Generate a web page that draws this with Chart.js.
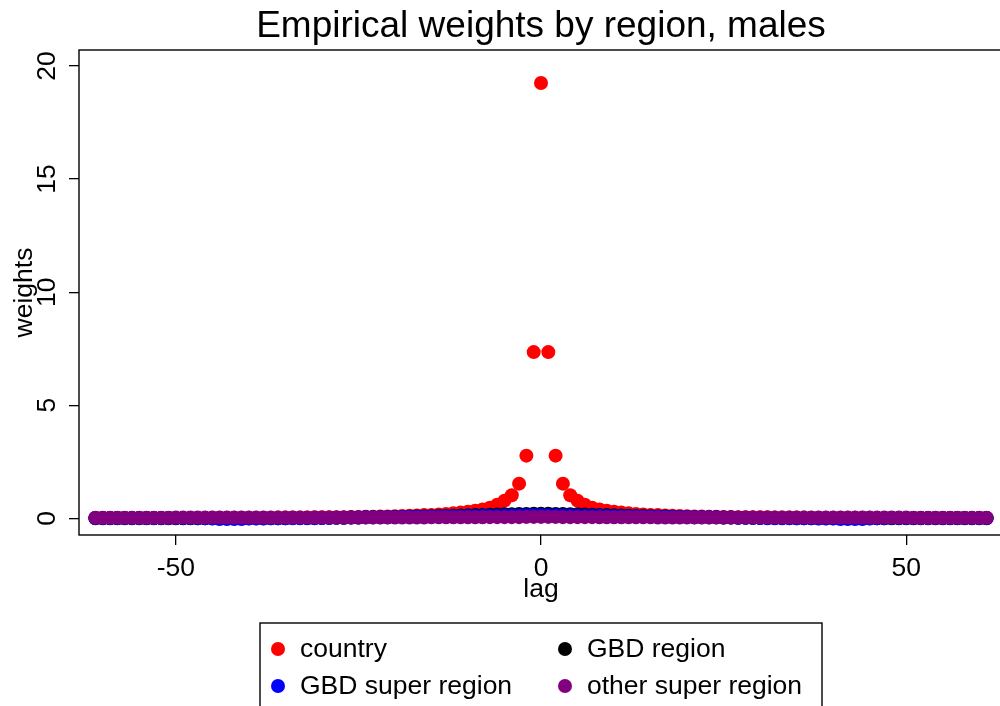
<!DOCTYPE html>
<html>
<head>
<meta charset="utf-8">
<script src="https://cdn.jsdelivr.net/npm/chart.js@4.4.1/dist/chart.umd.min.js"></script>
<style>
  html, body { margin: 0; padding: 0; background: #fff; overflow: hidden; }
  #wrap { width: 1010px; height: 706px; position: relative; }
</style>
</head>
<body>
<div id="wrap"><canvas id="weightsChart"></canvas></div>
<script>
// lag -61 .. 61
const lags = [
  -61, -60, -59, -58, -57, -56, -55, -54, -53, -52, -51,
  -50, -49, -48, -47, -46, -45, -44, -43, -42, -41,
  -40, -39, -38, -37, -36, -35, -34, -33, -32, -31,
  -30, -29, -28, -27, -26, -25, -24, -23, -22, -21,
  -20, -19, -18, -17, -16, -15, -14, -13, -12, -11,
  -10, -9, -8, -7, -6, -5, -4, -3, -2, -1,
  0,
  1, 2, 3, 4, 5, 6, 7, 8, 9, 10,
  11, 12, 13, 14, 15, 16, 17, 18, 19, 20,
  21, 22, 23, 24, 25, 26, 27, 28, 29, 30,
  31, 32, 33, 34, 35, 36, 37, 38, 39, 40,
  41, 42, 43, 44, 45, 46, 47, 48, 49, 50,
  51, 52, 53, 54, 55, 56, 57, 58, 59, 60, 61
];

const countryW = [
  0.01, 0.01, 0.01, 0.01, 0.01, 0.01, 0.01, 0.01, 0.01, 0.01, 0.01,
  0.01, 0.01, 0.01, 0.01, 0.01, 0.02, 0.02, 0.02, 0.02, 0.02,
  0.02, 0.02, 0.02, 0.02, 0.03, 0.03, 0.03, 0.03, 0.03, 0.04,
  0.04, 0.04, 0.05, 0.05, 0.06, 0.06, 0.07, 0.07, 0.08, 0.08,
  0.09, 0.10, 0.11, 0.12, 0.14, 0.15, 0.17, 0.19, 0.22, 0.25,
  0.29, 0.33, 0.39, 0.47, 0.60, 0.78, 1.02, 1.53, 2.77, 7.35,
  19.25,
  7.35, 2.77, 1.53, 1.02, 0.78, 0.60, 0.47, 0.39, 0.33, 0.29,
  0.25, 0.22, 0.19, 0.17, 0.15, 0.14, 0.12, 0.11, 0.10, 0.09,
  0.08, 0.08, 0.07, 0.07, 0.06, 0.06, 0.05, 0.05, 0.04, 0.04,
  0.04, 0.03, 0.03, 0.03, 0.03, 0.03, 0.02, 0.02, 0.02, 0.02,
  0.02, 0.02, 0.02, 0.02, 0.02, 0.01, 0.01, 0.01, 0.01, 0.01,
  0.01, 0.01, 0.01, 0.01, 0.01, 0.01, 0.01, 0.01, 0.01, 0.01, 0.01
];

const regionW = [
  0, 0, 0, 0, 0, 0, 0, 0, 0, 0, 0,
  0, 0, 0, 0, 0, 0, 0, 0, 0, 0,
  0, 0, 0, 0, 0, 0, 0.01, 0.01, 0.01, 0.01,
  0.01, 0.02, 0.02, 0.02, 0.03, 0.03, 0.04, 0.04, 0.05, 0.05,
  0.06, 0.06, 0.07, 0.08, 0.08, 0.09, 0.10, 0.10, 0.11, 0.12,
  0.13, 0.14, 0.15, 0.16, 0.17, 0.18, 0.18, 0.19, 0.19, 0.20,
  0.20,
  0.20, 0.19, 0.19, 0.18, 0.18, 0.17, 0.16, 0.15, 0.14, 0.13,
  0.12, 0.11, 0.10, 0.10, 0.09, 0.08, 0.08, 0.07, 0.06, 0.06,
  0.05, 0.05, 0.04, 0.04, 0.03, 0.03, 0.02, 0.02, 0.02, 0.01,
  0.01, 0.01, 0.01, 0.01, 0, 0, 0, 0, 0, 0,
  0, 0, 0, 0, 0, 0, 0, 0, 0, 0,
  0, 0, 0, 0, 0, 0, 0, 0, 0, 0, 0
];

const superW = [
  0.01, 0.01, 0.01, 0.01, 0.01, 0.01, 0.01, 0.01, 0.01, 0.01, 0.01,
  0.01, 0.01, 0.01, 0, 0, -0.01, -0.03, -0.03, -0.03, -0.03,
  -0.01, -0.01, -0.01, 0, 0, 0, 0, 0, 0, 0,
  0.01, 0.01, 0.02, 0.02, 0.03, 0.03, 0.04, 0.04, 0.05, 0.05,
  0.06, 0.06, 0.07, 0.07, 0.07, 0.08, 0.08, 0.09, 0.09, 0.09,
  0.10, 0.10, 0.11, 0.11, 0.11, 0.12, 0.12, 0.12, 0.13, 0.13,
  0.13,
  0.13, 0.13, 0.12, 0.12, 0.12, 0.11, 0.11, 0.11, 0.10, 0.10,
  0.09, 0.09, 0.09, 0.08, 0.08, 0.07, 0.07, 0.07, 0.06, 0.06,
  0.05, 0.05, 0.04, 0.04, 0.03, 0.03, 0.02, 0.02, 0.01, 0.01,
  0, 0, 0, 0, 0, 0, 0, -0.01, -0.01, -0.01,
  -0.03, -0.03, -0.03, -0.03, -0.01, 0, 0, 0.01, 0.01, 0.01,
  0.01, 0.01, 0.01, 0.01, 0.01, 0.01, 0.01, 0.01, 0.01, 0.01, 0.01
];

const otherW = [
  0.02, 0.02, 0.02, 0.02, 0.02, 0.02, 0.02, 0.02, 0.02, 0.02, 0.02,
  0.03, 0.03, 0.03, 0.03, 0.03, 0.03, 0.03, 0.03, 0.03, 0.03,
  0.03, 0.03, 0.03, 0.03, 0.03, 0.03, 0.03, 0.03, 0.03, 0.03,
  0.03, 0.03, 0.03, 0.03, 0.03, 0.03, 0.03, 0.03, 0.03, 0.03,
  0.03, 0.03, 0.03, 0.03, 0.03, 0.04, 0.04, 0.04, 0.04, 0.04,
  0.04, 0.04, 0.04, 0.05, 0.05, 0.05, 0.05, 0.05, 0.06, 0.06,
  0.06,
  0.06, 0.06, 0.05, 0.05, 0.05, 0.05, 0.05, 0.04, 0.04, 0.04,
  0.04, 0.04, 0.04, 0.04, 0.04, 0.03, 0.03, 0.03, 0.03, 0.03,
  0.03, 0.03, 0.03, 0.03, 0.03, 0.03, 0.03, 0.03, 0.03, 0.03,
  0.03, 0.03, 0.03, 0.03, 0.03, 0.03, 0.03, 0.03, 0.03, 0.03,
  0.03, 0.03, 0.03, 0.03, 0.03, 0.03, 0.03, 0.03, 0.03, 0.03,
  0.02, 0.02, 0.02, 0.02, 0.02, 0.02, 0.02, 0.02, 0.02, 0.02, 0.02
];

const seriesLabels = ['country', 'GBD region', 'GBD super region', 'other super region'];
const seriesColors = ['#ff0000', '#000000', '#0000ff', '#800080'];
const xTickValues = [-50, 0, 50];
const yTickValues = [0, 5, 10, 15, 20];

const FONT = '"Liberation Sans", Arial, Helvetica, sans-serif';

function pts(vals) {
  return lags.map((x, i) => ({ x: x, y: vals[i] }));
}

// Title, axis labels, tick labels, frame and the R-style legend box
const decor = {
  id: 'decor',
  afterDraw(chart) {
    const ctx = chart.ctx;
    const a = chart.chartArea;
    const xs = chart.scales.x, ys = chart.scales.y;
    ctx.save();
    ctx.strokeStyle = '#000';
    ctx.lineWidth = 1.4;
    ctx.strokeRect(a.left, a.top, a.right - a.left, a.bottom - a.top);

    ctx.fillStyle = '#000';
    ctx.textAlign = 'center';
    ctx.textBaseline = 'alphabetic';
    ctx.font = '37px ' + FONT;
    ctx.fillText('Empirical weights by region, males', (a.left + a.right) / 2, 37);

    ctx.font = '26.5px ' + FONT;
    xTickValues.forEach(v => ctx.fillText(String(v), xs.getPixelForValue(v), 576));
    ctx.fillText('lag', (a.left + a.right) / 2, 597);

    yTickValues.forEach(v => {
      ctx.save();
      ctx.translate(55, ys.getPixelForValue(v));
      ctx.rotate(-Math.PI / 2);
      ctx.fillText(String(v), 0, 0);
      ctx.restore();
    });
    ctx.save();
    ctx.translate(32, (a.top + a.bottom) / 2);
    ctx.rotate(-Math.PI / 2);
    ctx.fillText('weights', 0, 0);
    ctx.restore();

    // legend
    ctx.lineWidth = 1.4;
    ctx.strokeRect(260, 623, 562, 120);
    const cols = [278, 565], rows = [649, 686];
    ctx.textAlign = 'left';
    chart.data.datasets.forEach((ds, i) => {
      const cx = cols[i % 2], cy = rows[Math.floor(i / 2)];
      ctx.fillStyle = ds.backgroundColor;
      ctx.beginPath();
      ctx.arc(cx, cy, 7, 0, Math.PI * 2);
      ctx.fill();
      ctx.fillStyle = '#000';
      ctx.fillText(ds.label, cx + 22, cy + 8);
    });
    ctx.restore();
  }
};

const seriesVals = [countryW, regionW, superW, otherW];
const drawOrder = [3, 2, 1, 0];

new Chart(document.getElementById('weightsChart'), {
  type: 'scatter',
  data: {
    datasets: seriesVals.map((vals, i) => ({
      label: seriesLabels[i],
      data: pts(vals),
      backgroundColor: seriesColors[i],
      borderWidth: 0,
      pointRadius: 7,
      pointHoverRadius: 7,
      order: drawOrder[i]
    }))
  },
  options: {
    responsive: true,
    maintainAspectRatio: false,
    animation: false,
    events: [],
    layout: { padding: { top: 50, right: 7, bottom: 0, left: 0 } },
    plugins: {
      legend: { display: false },
      title: { display: false },
      tooltip: { enabled: false }
    },
    scales: {
      x: {
        type: 'linear',
        min: -63.25,
        max: 63.25,
        ticks: { stepSize: 50, includeBounds: false, display: false },
        grid: { drawOnChartArea: false, drawTicks: true, tickLength: 10, color: '#000', lineWidth: 1.3 },
        border: { display: false },
        afterFit: s => { s.height = 171; }
      },
      y: {
        min: -0.74,
        max: 20.71,
        ticks: { stepSize: 5, includeBounds: false, display: false },
        grid: { drawOnChartArea: false, drawTicks: true, tickLength: 10, color: '#000', lineWidth: 1.3 },
        border: { display: false },
        afterFit: s => { s.width = 79; }
      }
    }
  },
  plugins: [decor]
});
</script>
</body>
</html>
